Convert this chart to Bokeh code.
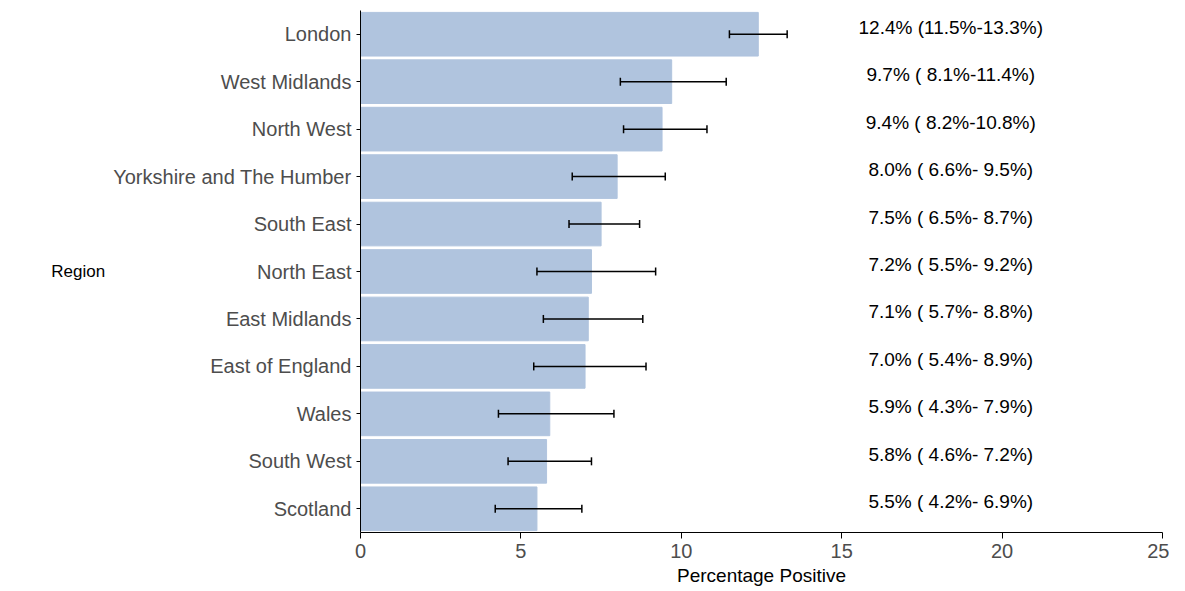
from bokeh.plotting import figure
from bokeh.models import ColumnDataSource, Whisker, TeeHead, Range1d
from bokeh.core.properties import value
from bokeh.embed import file_html
from bokeh.resources import INLINE

regions = ["London", "West Midlands", "North West", "Yorkshire and The Humber",
           "South East", "North East", "East Midlands", "East of England",
           "Wales", "South West", "Scotland"]
pct = [12.4, 9.7, 9.4, 8.0, 7.5, 7.2, 7.1, 7.0, 5.9, 5.8, 5.5]
low = [11.5, 8.1, 8.2, 6.6, 6.5, 5.5, 5.7, 5.4, 4.3, 4.6, 4.2]
high = [13.3, 11.4, 10.8, 9.5, 8.7, 9.2, 8.8, 8.9, 7.9, 7.2, 6.9]

labels = ["%.1f%% (%4.1f%%-%4.1f%%)" % (p_, l, h) for p_, l, h in zip(pct, low, high)]

src = ColumnDataSource(dict(region=regions, pct=pct, low=low, high=high,
                            label=labels, lx=[18.4] * len(regions)))

p = figure(y_range=list(reversed(regions)), x_range=Range1d(0, 25),
           frame_width=802, frame_height=522, output_backend="svg",
           toolbar_location=None, min_border_right=7, min_border_top=10,
           min_border_left=360)

p.hbar(y="region", right="pct", height=0.92, source=src, color="#B0C4DE")
w = Whisker(base="region", lower="low", upper="high", source=src, dimension="width",
            line_color="black", line_width=1.5, level="overlay",
            upper_head=TeeHead(size=8, line_color="black", line_width=1.5),
            lower_head=TeeHead(size=8, line_color="black", line_width=1.5))
p.add_layout(w)
p.text(x="lx", y="region", text="label", source=src, text_align="center",
       text_baseline="middle", text_font_size="19px", text_color="black",
       text_font=value("Liberation Sans"), y_offset=-7)

p.xgrid.visible = False
p.ygrid.visible = False
p.outline_line_color = None
p.yaxis.axis_label = "Region"
p.yaxis.axis_label_orientation = "horizontal"
p.xaxis.axis_label = "Percentage Positive"
for ax in (p.xaxis, p.yaxis):
    ax.axis_label_text_font = "Liberation Sans"
    ax.axis_label_text_font_style = "normal"
    ax.axis_label_text_color = "black"
    ax.major_label_text_font = "Liberation Sans"
    ax.major_label_text_color = "#4D4D4D"
    ax.major_label_text_font_size = "20px"
    ax.axis_line_color = "black"
    ax.major_tick_line_color = "black"
    ax.minor_tick_line_color = None
p.xaxis.axis_label_text_font_size = "19px"
p.yaxis.axis_label_text_font_size = "17px"
p.yaxis.major_tick_out = 4
p.yaxis.major_tick_in = 0
p.xaxis.major_tick_in = 0
p.xaxis.ticker = [0, 5, 10, 15, 20, 25]
p.xaxis.axis_label_standoff = 4

open("out.html", "w").write(file_html(p, INLINE))
